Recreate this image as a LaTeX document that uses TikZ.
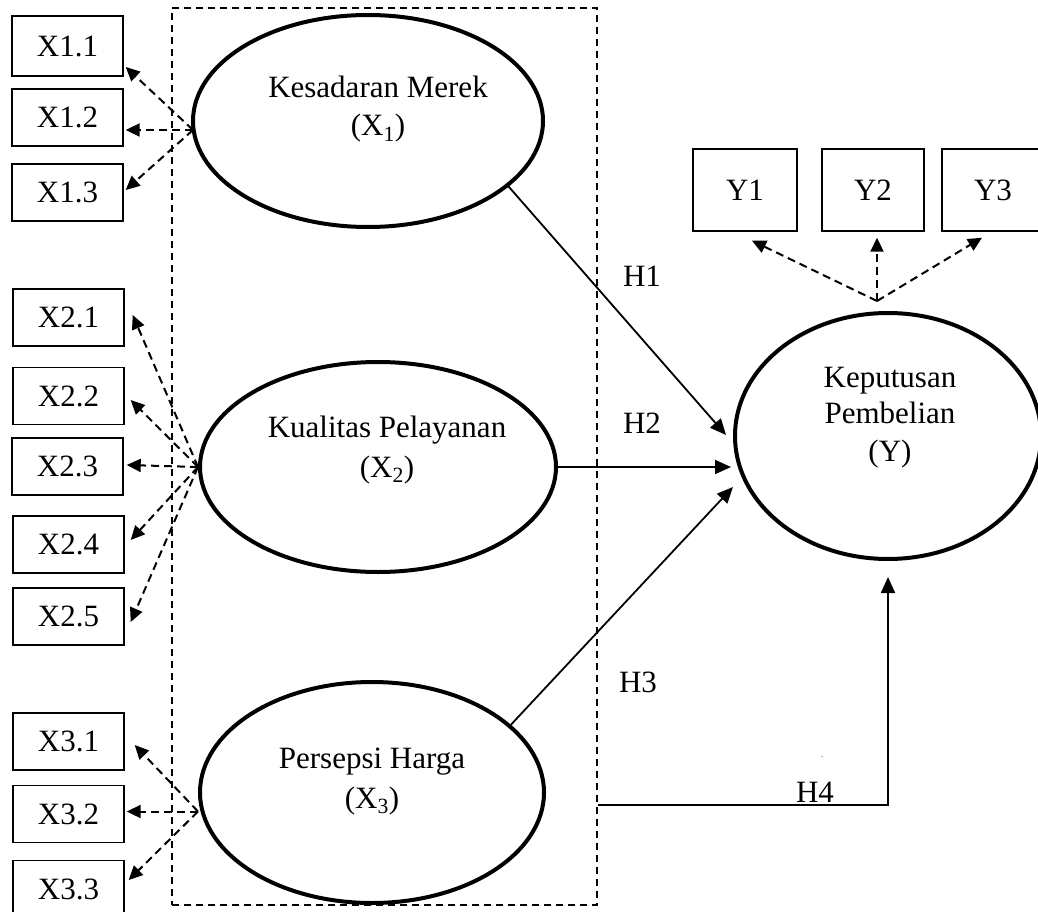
\documentclass[tikz,border=0pt]{standalone}
\usepackage{fontspec}
\setmainfont{Liberation Serif}
\usetikzlibrary{shapes.geometric,arrows.meta,calc}
\begin{document}
\begin{tikzpicture}[x=1pt,y=-1pt,
  every node/.style={font=\fontsize{31}{36}\selectfont},
  ind/.style={draw, line width=1.4pt, minimum width=111pt, minimum height=57pt, inner sep=0pt},
  yind/.style={ind, minimum width=102pt, minimum height=82pt},
  lat/.style={ellipse, draw, line width=4pt, inner sep=0pt},
  lbl/.style={anchor=base, inner sep=0pt},
  load/.style={line width=2pt, dash pattern=on 8pt off 5pt, -{Triangle[length=14pt,width=13pt]}},
  hyp/.style={line width=1.8pt, -{Triangle[length=16pt,width=14pt]}},
  frame/.style={draw, line width=1.4pt, dash pattern=on 7pt off 5pt, minimum width=425pt, minimum height=897pt, inner sep=0pt}
]
\useasboundingbox (0,0) rectangle (1038,912);
\node[frame] (frame) at (384.5,456.5) {};

% latent variables
\node[lat, minimum width=350pt, minimum height=212pt] (k1) at (368,121) {};
\node[lat, minimum width=356pt, minimum height=210pt] (k2) at (378,467) {};
\node[lat, minimum width=344pt, minimum height=221pt] (k3) at (372,792.5) {};
\node[lat, minimum width=306pt, minimum height=246pt] (ky) at (888,436) {};

\node[lbl] (k1a) at (378,98) {Kesadaran Merek};
\node[lbl] (k1b) at (378,136) {(X\textsubscript{1})};
\node[lbl] (k2a) at (387,437) {Kualitas Pelayanan};
\node[lbl] (k2b) at (387,477) {(X\textsubscript{2})};
\node[lbl] (k3a) at (372,768) {Persepsi Harga};
\node[lbl] (k3b) at (372,808) {(X\textsubscript{3})};
\node[lbl] (kya) at (890,387) {Keputusan};
\node[lbl] (kyb) at (890,423) {Pembelian};
\node[lbl] (kyc) at (890,461) {(Y)};

% indicators
\node[ind, minimum height=60pt] (x11) at (67.5,46) {X1.1};
\node[ind] (x12) at (67.5,117.5) {X1.2};
\node[ind] (x13) at (67.5,192.5) {X1.3};
\node[ind] (x21) at (68.5,317.5) {X2.1};
\node[ind] (x22) at (68.5,396) {X2.2};
\node[ind] (x23) at (67.5,466.5) {X2.3};
\node[ind] (x24) at (68.5,544.5) {X2.4};
\node[ind] (x25) at (68.5,616.5) {X2.5};
\node[ind] (x31) at (68.5,741.5) {X3.1};
\node[ind] (x32) at (68.5,814) {X3.2};
\node[ind] (x33) at (68.5,889) {X3.3};
\node[yind, minimum width=104pt] (y1) at (745,190) {Y1};
\node[yind] (y2) at (873,190) {Y2};
\node[yind, minimum width=102pt] (y3) at (993,190) {Y3};

% loadings
\coordinate (o1) at ($(k1.west)+(2,9)$);
\coordinate (o2) at (k2.west);
\coordinate (o3) at ($(k3.west)+(0,19)$);
\coordinate (oy) at ($(ky.north)+(-11,-10)$);
\draw[load] (o1) -- ($(x11.east)+(2,21)$);
\draw[load] (o1) -- ($(x12.east)+(2,12.5)$);
\draw[load] (o1) -- ($(x13.east)+(2,-2.5)$);
\draw[load] (o2) -- ($(x21.east)+(8,-2.5)$);
\draw[load] (o2) -- ($(x22.east)+(6,4)$);
\draw[load] (o2) -- ($(x23.east)+(3,-1.5)$);
\draw[load] (o2) -- ($(x24.east)+(6,-4.5)$);
\draw[load] (o2) -- ($(x25.east)+(6,5.5)$);
\draw[load] (o3) -- ($(x31.east)+(10,3.5)$);
\draw[load] (o3) -- ($(o3 -| x32.east)+(2,0)$);
\draw[load] (o3) -- ($(x33.east)+(4,-9)$);
\draw[load] (oy) -- ($(y1.south)+(7,9)$);
\draw[load] (oy) -- ($(y2.south)+(4,6)$);
\draw[load] (oy) -- ($(y3.south)+(-11,6)$);

% hypotheses
\draw[hyp] (k1.-25) -- ($(ky.west)+(-7,-1)$);
\draw[hyp] (k2.east) -- ($(k2.east -| ky.west)+(-2,0)$);
\draw[hyp] (k3.26) -- ($(ky.west)+(0,51)$);
\coordinate (h4s) at ($(frame.south east)+(0,-101)$);
\draw[hyp] (h4s) -- (h4s -| ky.south) -- ($(ky.south)+(0,16)$);

\node[lbl] (h1) at (642,286) {H1};
\node[lbl] (h2) at (642,433) {H2};
\node[lbl] (h3) at (638,692) {H3};
\node[lbl] (h4) at (815,802) {H4};
\node[font=\fontsize{8}{8}\selectfont, inner sep=0pt] (dot) at (822,757) {.};
\end{tikzpicture}
\end{document}
